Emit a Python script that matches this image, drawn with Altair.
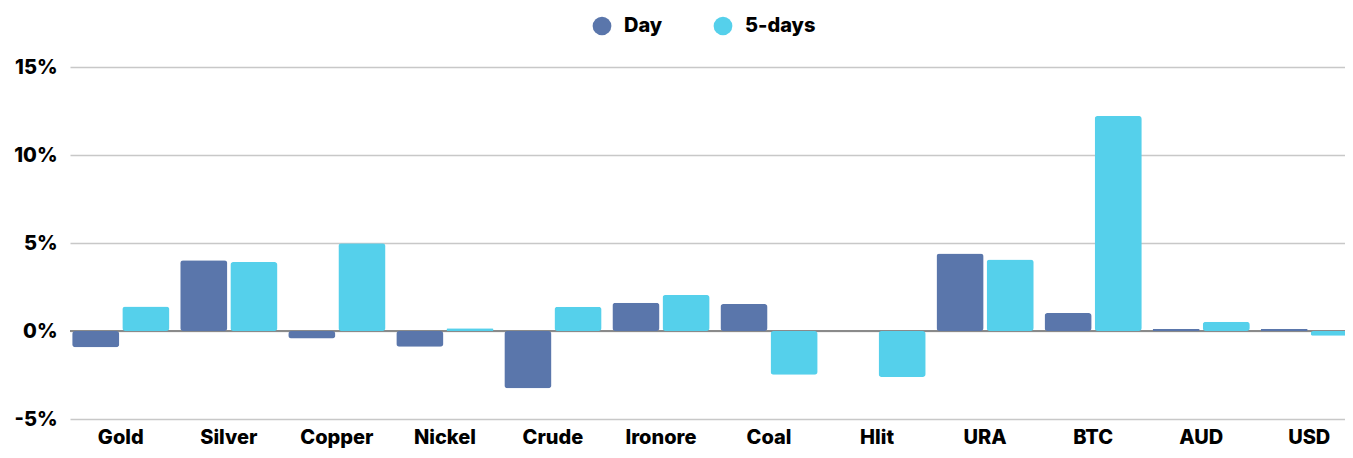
import altair as alt
import pandas as pd

categories = ["Gold", "Silver", "Copper", "Nickel", "Crude", "Ironore",
              "Coal", "Hlit", "URA", "BTC", "AUD", "USD"]
day = [-0.93, 4.02, -0.42, -0.9, -3.25, 1.61, 1.53, 0.0, 4.4, 1.02, 0.11, 0.11]
five_days = [1.39, 3.92, 4.98, 0.15, 1.38, 2.05, -2.48, -2.62, 4.06, 12.22, 0.52, -0.27]
series = ["Day", "5-days"]
colors = ["#5a76ab", "#55d0eb"]
y_ticks = [-5, 0, 5, 10, 15]

rows = []
for c, d, f in zip(categories, day, five_days):
    rows.append({"cat": c, "series": "Day", "value": d})
    rows.append({"cat": c, "series": "5-days", "value": f})
df = pd.DataFrame(rows)

FONT = "Inter"
FW = 800
FS = 20
yscale = alt.Scale(domain=[-5, 15], nice=False, zero=False)

bars = alt.Chart(df).mark_bar(cornerRadius=3).encode(
    x=alt.X("cat:N", sort=categories, title=None,
            scale=alt.Scale(paddingInner=0.1, paddingOuter=0.02, range=[0, 1290]),
            axis=alt.Axis(labelAngle=0, labelFontSize=FS, labelFont=FONT,
                          labelFontWeight=FW, labelColor="#000", labelBaseline="top",
                          ticks=False, domain=False, labelPadding=8)),
    xOffset=alt.XOffset("series:N", sort=series,
                        scale=alt.Scale(paddingInner=0.06)),
    y=alt.Y("value:Q", scale=yscale, title=None,
            axis=alt.Axis(values=y_ticks, labelExpr="datum.value + '%'",
                          labelFontSize=FS, labelFont=FONT, labelFontWeight=FW,
                          labelColor="#000", ticks=False, domain=False,
                          labelPadding=13, gridColor="#c8c8c8", gridWidth=1.5)),
    color=alt.Color("series:N", sort=series,
                    scale=alt.Scale(domain=series, range=colors),
                    legend=alt.Legend(title=None, orient="none", direction="horizontal",
                                      legendX=522, legendY=-51, symbolType="circle",
                                      symbolSize=350, symbolStrokeWidth=0,
                                      labelFontSize=FS, labelFont=FONT,
                                      labelFontWeight=FW, labelColor="#000",
                                      labelOffset=12, columnPadding=50)),
)

zero = alt.Chart(pd.DataFrame({"z": [0]})).mark_rule(color="#8a8a8a", strokeWidth=2).encode(
    y=alt.Y("z:Q", scale=yscale)
)

chart = alt.layer(zero, bars).properties(
    width=1275, height=352,
    autosize=alt.AutoSizeParams(type="none"),
    padding={"left": 62, "top": 59, "right": 0, "bottom": 31},
).configure_view(stroke=None)

chart.save("out.html", embed_options={"renderer": "svg", "actions": False})
